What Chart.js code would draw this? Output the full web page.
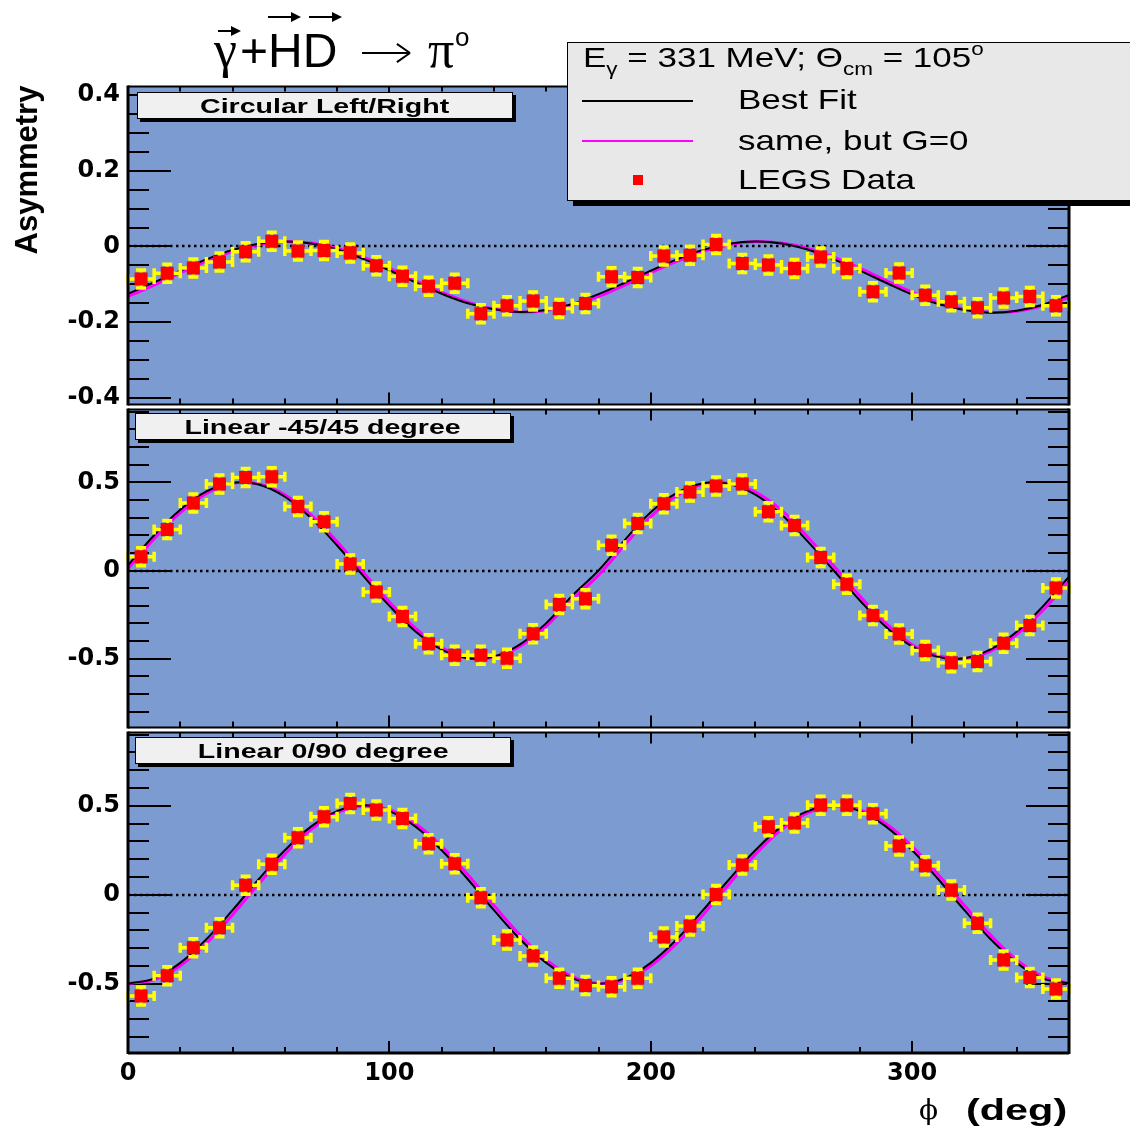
<!DOCTYPE html>
<html lang="en">
<head>
<meta charset="UTF-8">
<title>Asymmetry vs phi</title>
<script src="https://cdn.jsdelivr.net/npm/chart.js@4.4.1/dist/chart.umd.min.js"></script>
<style>
  body { margin:0; width:1130px; height:1127px; position:relative; overflow:hidden; background:#fff;
         font-family:"Liberation Sans", Arial, sans-serif; color:#000; }
  canvas { position:absolute; left:0; }
  .txt { position:absolute; white-space:nowrap; }
  .arrowv { position:absolute; height:0; border-top:2.5px solid #000; }
  .arrowv::after { content:''; position:absolute; right:-3px; top:-6.5px; border-left:10px solid #000;
                   border-top:5px solid transparent; border-bottom:5px solid transparent; }
  .bigarrow { position:absolute; height:0; border-top:2px solid #000; }
  .bigarrow::before, .bigarrow::after { content:''; position:absolute; right:0; width:16px; height:0;
                   border-top:2px solid #000; transform-origin:right center; }
  .bigarrow::before { top:-2px; transform:rotate(35deg); }
  .bigarrow::after { top:-2px; transform:rotate(-35deg); }
  .pbox { position:absolute; width:374px; height:25px; background:#f0f0f0; border:1px solid #000;
          box-shadow:3px 3px 0 #000; text-align:center; line-height:25px; }
  .pbox span { display:inline-block; font-weight:bold; font-size:21px; transform:scaleX(1.36); }
  #legend { position:absolute; left:567px; top:42px; width:620px; height:157px; background:#e8e8e8;
            border:1px solid #000; box-shadow:6px 5px 0 #000; }
  .lg { position:absolute; font-size:28px; line-height:32px; transform:scaleX(1.25); transform-origin:left center; white-space:nowrap; }
  .sub { font-size:18px; position:relative; top:8px; }
  .sup { font-size:18px; position:relative; top:-12px; }
</style>
</head>
<body>
<canvas id="c1" width="1130" height="363" style="top:64px"></canvas>
<canvas id="c2" width="1130" height="363" style="top:387px"></canvas>
<canvas id="c3" width="1130" height="388" style="top:710px"></canvas>

<!-- title -->
<div class="txt" style="left:214px;top:24px;font-family:'Liberation Serif';font-size:52px;line-height:52px">γ</div>
<div class="txt" style="left:240px;top:27px;font-size:48px;line-height:48px">+HD</div>
<div class="bigarrow" style="left:362px;top:52px;width:48px"></div>
<div class="txt" style="left:428px;top:24px;font-family:'Liberation Serif';font-size:52px;line-height:52px">π</div>
<div class="txt" style="left:455px;top:24px;font-size:26px;line-height:26px">o</div>
<div class="arrowv" style="left:218px;top:30px;width:20px"></div>
<div class="arrowv" style="left:268px;top:16px;width:30px"></div>
<div class="arrowv" style="left:309px;top:16px;width:30px"></div>

<!-- axis titles -->
<div class="txt" style="left:-58px;top:153px;width:170px;font-weight:bold;font-size:31px;line-height:34px;text-align:center;transform:rotate(-90deg)">Asymmetry</div>
<div class="txt" style="left:919px;top:1093px;font-family:'DejaVu Serif';font-size:28px;line-height:34px">ϕ</div>
<div class="txt" style="left:966px;top:1093px;font-weight:bold;font-size:30px;line-height:34px;transform:scaleX(1.38);transform-origin:left center">(deg)</div>

<!-- panel labels -->
<div class="pbox" style="left:137px;top:92px"><span>Circular Left/Right</span></div>
<div class="pbox" style="left:135px;top:413px"><span>Linear -45/45 degree</span></div>
<div class="pbox" style="left:135px;top:737px"><span>Linear 0/90 degree</span></div>

<!-- legend -->
<div id="legend"></div>
<div class="lg" style="left:583px;top:42px">E<span class="sub">γ</span> = 331 MeV; Θ<span class="sub">cm</span> = 105<span class="sup">o</span></div>
<div style="position:absolute;left:582px;top:100px;width:111px;height:2px;background:#000"></div>
<div class="lg" style="left:738px;top:84px">Best Fit</div>
<div style="position:absolute;left:582px;top:140px;width:111px;height:2px;background:#ff00ff"></div>
<div class="lg" style="left:738px;top:125px">same, but G=0</div>
<div style="position:absolute;left:633px;top:175px;width:10px;height:10px;background:#ff0000"></div>
<div class="lg" style="left:738px;top:164px">LEGS Data</div>

<script>
// bin centres (deg) of the LEGS points and the x grid of the fit curves
const phi = [5,15,25,35,45,55,65,75,85,95,105,115,125,135,145,155,165,175,
             185,195,205,215,225,235,245,255,265,275,285,295,305,315,325,335,345,355];
const curveX = [0,10,20,30,40,50,60,70,80,90,100,110,120,130,140,150,160,170,180,
                190,200,210,220,230,240,250,260,270,280,290,300,310,320,330,340,350,360];
const phiErr = 5;

// Circular Left/Right
const circData = [-0.086,-0.071,-0.057,-0.041,-0.014,0.014,-0.012,-0.011,-0.017,-0.051,-0.079,-0.105,-0.097,-0.178,-0.157,-0.144,-0.164,-0.151,
                  -0.080,-0.082,-0.025,-0.023,0.005,-0.045,-0.049,-0.058,-0.028,-0.058,-0.120,-0.070,-0.129,-0.146,-0.162,-0.136,-0.132,-0.157];
const circErr = 0.02;
const circBest = [-0.125,-0.095,-0.064,-0.034,-0.009,0.007,0.013,0.008,-0.008,-0.033,-0.063,-0.095,-0.125,-0.150,-0.166,-0.173,-0.168,-0.152,-0.126,
                  -0.096,-0.064,-0.034,-0.009,0.007,0.013,0.008,-0.008,-0.034,-0.064,-0.096,-0.127,-0.152,-0.168,-0.175,-0.170,-0.154,-0.128];
const circG0 = [-0.132,-0.102,-0.070,-0.039,-0.013,0.005,0.013,0.009,-0.005,-0.028,-0.057,-0.090,-0.121,-0.147,-0.165,-0.173,-0.169,-0.155,-0.132,
                -0.102,-0.070,-0.039,-0.013,0.005,0.013,0.009,-0.005,-0.028,-0.057,-0.090,-0.121,-0.147,-0.165,-0.174,-0.171,-0.157,-0.134];

// Linear -45/45 degree
const lin45Data = [0.078,0.233,0.382,0.490,0.527,0.531,0.363,0.276,0.037,-0.121,-0.261,-0.415,-0.480,-0.480,-0.497,-0.358,-0.192,-0.160,
                   0.143,0.266,0.378,0.445,0.479,0.490,0.333,0.255,0.074,-0.078,-0.255,-0.359,-0.453,-0.522,-0.516,-0.412,-0.311,-0.099];
const lin45Err = 0.04;
const lin45Best = [0.030,0.200,0.345,0.448,0.497,0.487,0.418,0.298,0.142,-0.030,-0.200,-0.345,-0.448,-0.497,-0.487,-0.418,-0.298,-0.142,0.000,
                   0.172,0.330,0.440,0.495,0.490,0.430,0.318,0.165,0.000,-0.170,-0.320,-0.430,-0.490,-0.497,-0.447,-0.347,-0.203,-0.035];
const lin45G0 = [0.010,0.180,0.328,0.437,0.494,0.491,0.429,0.315,0.163,-0.009,-0.179,-0.328,-0.437,-0.494,-0.491,-0.429,-0.315,-0.163,-0.026,
                 0.145,0.305,0.425,0.488,0.495,0.445,0.342,0.190,0.025,-0.145,-0.300,-0.420,-0.483,-0.498,-0.457,-0.362,-0.225,-0.060];

// Linear 0/90 degree
const lin90Data = [-0.569,-0.455,-0.298,-0.185,0.054,0.172,0.320,0.438,0.513,0.476,0.429,0.287,0.174,-0.017,-0.255,-0.344,-0.470,-0.510,
                   -0.517,-0.470,-0.238,-0.176,0.002,0.167,0.382,0.404,0.504,0.504,0.455,0.274,0.163,0.026,-0.161,-0.367,-0.466,-0.530];
const lin90Err = 0.04;
const lin90Best = [-0.500,-0.470,-0.383,-0.250,-0.087,0.087,0.250,0.383,0.470,0.503,0.470,0.383,0.250,0.087,-0.087,-0.250,-0.383,-0.470,-0.500,
                   -0.470,-0.383,-0.250,-0.087,0.087,0.250,0.383,0.470,0.500,0.470,0.383,0.250,0.087,-0.087,-0.250,-0.383,-0.470,-0.498];
const lin90G0 = [-0.499,-0.478,-0.399,-0.272,-0.112,0.061,0.227,0.366,0.460,0.499,0.478,0.399,0.272,0.112,-0.061,-0.227,-0.366,-0.460,-0.499,
                 -0.478,-0.399,-0.272,-0.112,0.061,0.227,0.366,0.460,0.499,0.478,0.399,0.272,0.112,-0.061,-0.227,-0.366,-0.460,-0.499];

const padColor = '#7b9bd1';

// pad background, dotted zero line, inner ticks and frame (ROOT style)
const rootFrame = {
    id: 'rootFrame',
    beforeDraw(chart, args, o) {
        const {ctx, chartArea: a} = chart;
        ctx.save();
        ctx.fillStyle = '#fff';
        ctx.fillRect(0, a.top, chart.width, chart.height - a.top);
        ctx.fillStyle = padColor;
        ctx.fillRect(a.left, a.top, a.right - a.left, a.bottom - a.top);
        ctx.restore();
    },
    beforeDatasetsDraw(chart, args, o) {
        const {ctx, chartArea: a, scales: {x, y}} = chart;
        ctx.save();
        const y0 = Math.round(y.getPixelForValue(0));
        ctx.strokeStyle = '#000';
        ctx.lineWidth = 2.5;
        ctx.setLineDash([2.5, 3.5]);
        ctx.beginPath();
        ctx.moveTo(a.left, y0); ctx.lineTo(a.right, y0);
        ctx.stroke();
        ctx.setLineDash([]);
        ctx.lineWidth = 2;
        ctx.beginPath();
        const n0 = Math.ceil(y.min / o.yMinor - 1e-6), n1 = Math.floor(y.max / o.yMinor + 1e-6);
        for (let k = n0; k <= n1; k++) {
            const v = k * o.yMinor;
            const major = Math.abs(v / o.yMajor - Math.round(v / o.yMajor)) < 1e-6;
            const len = major ? 43 : 21;
            const py = Math.round(y.getPixelForValue(v));
            ctx.moveTo(a.left, py); ctx.lineTo(a.left + len, py);
            ctx.moveTo(a.right, py); ctx.lineTo(a.right - len, py);
        }
        for (let v = 20; v < 360; v += 20) {
            const major = v % 100 === 0;
            const px = Math.round(x.getPixelForValue(v));
            ctx.moveTo(px, a.top); ctx.lineTo(px, a.top + (major ? 11 : 5));
            ctx.moveTo(px, a.bottom); ctx.lineTo(px, a.bottom - (major ? 12 : 6));
        }
        ctx.stroke();
        ctx.restore();
    },
    afterDatasetsDraw(chart, args, o) {
        const {ctx, chartArea: a} = chart;
        ctx.save();
        ctx.strokeStyle = '#000';
        ctx.lineWidth = 2;
        ctx.beginPath();
        ctx.moveTo(a.left, a.top); ctx.lineTo(a.right, a.top);
        ctx.stroke();
        ctx.lineWidth = o.bottomWidth;
        ctx.beginPath();
        ctx.moveTo(a.left, a.bottom); ctx.lineTo(a.right, a.bottom);
        ctx.stroke();
        ctx.lineWidth = 3;
        ctx.beginPath();
        ctx.moveTo(a.left, a.top - 1); ctx.lineTo(a.left, a.bottom + 1);
        ctx.moveTo(a.right, a.top - 1); ctx.lineTo(a.right, a.bottom + 1);
        ctx.stroke();
        ctx.restore();
    }
};

// yellow error bars, drawn just before the red markers
const errorBars = {
    id: 'errorBars',
    beforeDatasetDraw(chart, args) {
        const ds = chart.data.datasets[args.index];
        if (!ds.errY) return;
        const {ctx, scales: {x, y}} = chart;
        ctx.save();
        ctx.strokeStyle = '#ffff00';
        ctx.lineWidth = 3.5;
        ctx.beginPath();
        ds.data.forEach(p => {
            const px = x.getPixelForValue(p.x), py = y.getPixelForValue(p.y);
            const x0 = x.getPixelForValue(p.x - ds.errX), x1 = x.getPixelForValue(p.x + ds.errX);
            const y0 = Math.min(y.getPixelForValue(p.y + ds.errY), py - 9);
            const y1 = Math.max(y.getPixelForValue(p.y - ds.errY), py + 9);
            ctx.moveTo(x0, py); ctx.lineTo(x1, py);
            ctx.moveTo(px, y0); ctx.lineTo(px, y1);
            ctx.moveTo(x0, py - 5); ctx.lineTo(x0, py + 5);
            ctx.moveTo(x1, py - 5); ctx.lineTo(x1, py + 5);
            ctx.moveTo(px - 5, y0); ctx.lineTo(px + 5, y0);
            ctx.moveTo(px - 5, y1); ctx.lineTo(px + 5, y1);
        });
        ctx.stroke();
        ctx.restore();
    }
};

const tickFont = {family: 'DejaVu Sans', weight: 'bold', size: 24};

makePanel = (id, yMin, yMax, yStep, yMinor, points, yErr, best, g0, showX) => {
    return new Chart(id, {
        type: 'line',
        data: {
            datasets: [{
                data: points.map((v, i) => ({x: phi[i], y: v})),
                showLine: false,
                pointStyle: 'rect',
                pointRadius: 9.2,
                pointBorderWidth: 0,
                pointBackgroundColor: '#ff0000',
                errX: phiErr,
                errY: yErr,
                order: 0
            }, {
                data: best.map((v, i) => ({x: curveX[i], y: v})),
                borderColor: '#000000',
                borderWidth: 2,
                pointRadius: 0,
                tension: 0.4,
                order: 1
            }, {
                data: g0.map((v, i) => ({x: curveX[i], y: v})),
                borderColor: '#ff00ff',
                borderWidth: 3,
                pointRadius: 0,
                tension: 0.4,
                order: 2
            }]
        },
        options: {
            responsive: false,
            animation: false,
            devicePixelRatio: 1,
            events: [],
            layout: {padding: {top: 20, right: 61, bottom: showX ? 0 : 20, left: 0}},
            plugins: {
                legend: {display: false},
                tooltip: {enabled: false},
                rootFrame: {yMinor: yMinor, yMajor: yStep, bottomWidth: showX ? 3 : 2}
            },
            scales: {
                x: {
                    type: 'linear', min: 0, max: 360, display: showX,
                    grid: {display: false, drawTicks: false},
                    border: {display: false},
                    ticks: {stepSize: 100, includeBounds: false, padding: 6, color: '#000', font: tickFont, maxRotation: 0},
                    afterFit: s => { s.height = showX ? 45 : 0; }
                },
                y: {
                    min: yMin, max: yMax,
                    grid: {display: false, drawTicks: false},
                    border: {display: false},
                    ticks: {stepSize: yStep, includeBounds: false, padding: 8, color: '#000', font: tickFont,
                            callback: v => Math.abs(v) < 1e-9 ? '0' : String(parseFloat(v.toFixed(2)))},
                    afterFit: s => { s.width = 128; }
                }
            }
        },
        plugins: [rootFrame, errorBars]
    });
}

makePanel('c1', -0.418, 0.423, 0.2, 0.05, circData, circErr, circBest, circG0, false);
makePanel('c2', -0.89, 0.913, 0.5, 0.1, lin45Data, lin45Err, lin45Best, lin45G0, false);
makePanel('c3', -0.89, 0.913, 0.5, 0.1, lin90Data, lin90Err, lin90Best, lin90G0, true);
</script>
</body>
</html>
